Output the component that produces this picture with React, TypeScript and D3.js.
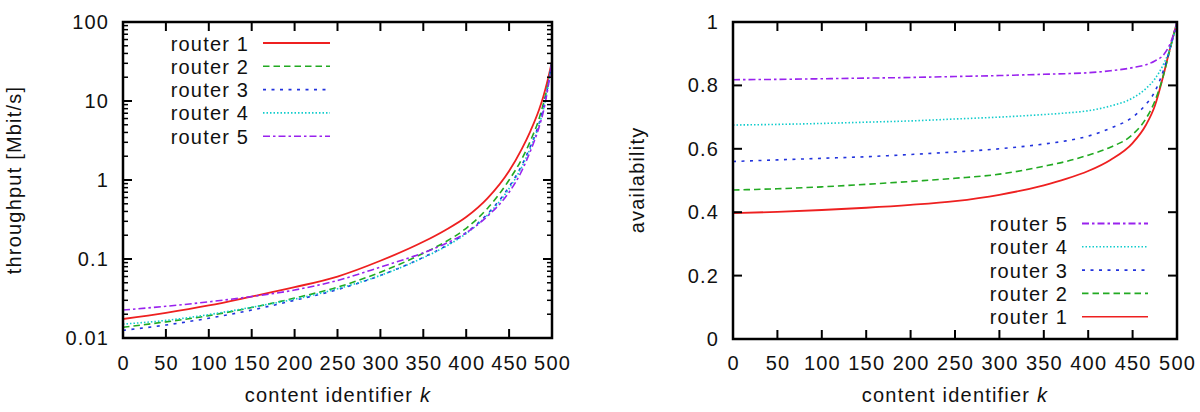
import React from 'react';
import * as d3 from 'd3';

const contentIds = [0, 50, 100, 150, 200, 250, 300, 350, 375, 400, 425, 450, 465, 475, 485, 490, 495, 500];

// throughput [Mbit/s] per router (log axis)
const thrRouter1 = [0.0174, 0.0208, 0.0258, 0.0335, 0.044, 0.060, 0.095, 0.165, 0.23, 0.34, 0.59, 1.3, 2.5, 4.2, 7.8, 11.5, 18.5, 32];
const thrRouter2 = [0.0137, 0.0160, 0.0192, 0.0243, 0.032, 0.044, 0.068, 0.118, 0.163, 0.245, 0.44, 1.0, 1.86, 3.16, 6.0, 9.3, 15.8, 32];
const thrRouter3 = [0.0125, 0.0146, 0.0178, 0.0226, 0.030, 0.041, 0.062, 0.105, 0.144, 0.215, 0.374, 0.82, 1.55, 2.7, 5.25, 8.3, 15.1, 32];
const thrRouter4 = [0.0150, 0.0167, 0.0198, 0.0245, 0.031, 0.042, 0.062, 0.104, 0.142, 0.21, 0.361, 0.78, 1.48, 2.57, 5.0, 7.8, 14.5, 32];
const thrRouter5 = [0.0226, 0.0252, 0.0287, 0.0335, 0.0405, 0.0535, 0.079, 0.12, 0.155, 0.215, 0.35, 0.70, 1.32, 2.35, 4.7, 7.4, 14.1, 32];

// availability per router
const avRouter1 = [0.397, 0.401, 0.407, 0.414, 0.423, 0.435, 0.455, 0.485, 0.505, 0.53, 0.565, 0.618, 0.675, 0.735, 0.835, 0.893, 0.948, 1.0];
const avRouter2 = [0.47, 0.474, 0.48, 0.488, 0.497, 0.507, 0.52, 0.545, 0.56, 0.58, 0.605, 0.645, 0.695, 0.75, 0.835, 0.89, 0.945, 1.0];
const avRouter3 = [0.56, 0.565, 0.57, 0.575, 0.582, 0.59, 0.60, 0.615, 0.625, 0.64, 0.665, 0.70, 0.74, 0.78, 0.85, 0.895, 0.945, 1.0];
const avRouter4 = [0.675, 0.677, 0.68, 0.684, 0.688, 0.694, 0.70, 0.708, 0.713, 0.72, 0.735, 0.76, 0.79, 0.82, 0.868, 0.9, 0.945, 1.0];
const avRouter5 = [0.818, 0.819, 0.821, 0.823, 0.825, 0.828, 0.831, 0.835, 0.837, 0.84, 0.846, 0.856, 0.865, 0.877, 0.897, 0.918, 0.952, 1.0];

const routerNames = ['router 1', 'router 2', 'router 3', 'router 4', 'router 5'];
const routerColors = ['#ee2020', '#22aa22', '#2233dd', '#11cccc', '#9922ee'];
const routerDashes = ['none', '6.5,4', '3,5.5', '1.5,2', '7,3,2.5,3'];

const xTickValues = [0, 50, 100, 150, 200, 250, 300, 350, 400, 450, 500];
const logTickLabels = ['0.01', '0.1', '1', '10', '100'];
const availTickValues = [0, 0.2, 0.4, 0.6, 0.8, 1];

const FONT = {fontFamily: 'Liberation Sans, Arial, Helvetica, sans-serif', fontSize: 20, letterSpacing: 1.2, fill: '#111'};

function Frame({x, y, ticksY, minorY, id}) {
    const [x0, x1] = x.range();
    const [y0, y1] = y.range();
    return (
        <g stroke="#000" fill="none">
            <rect x={x0} y={y1} width={x1 - x0} height={y0 - y1} strokeWidth={2.5} />
            {xTickValues.map((t) => (
                <g key={`xt${id}${t}`} strokeWidth={2}>
                    <line x1={x(t)} x2={x(t)} y1={y0} y2={y0 - 9} />
                    <line x1={x(t)} x2={x(t)} y1={y1} y2={y1 + 9} />
                </g>
            ))}
            {ticksY.map((t) => (
                <g key={`yt${id}${t}`} strokeWidth={2}>
                    <line x1={x0} x2={x0 + 9} y1={y(t)} y2={y(t)} />
                    <line x1={x1} x2={x1 - 9} y1={y(t)} y2={y(t)} />
                </g>
            ))}
            {minorY.map((t, i) => (
                <g key={`ym${id}${i}`} strokeWidth={1.5}>
                    <line x1={x0} x2={x0 + 5} y1={y(t)} y2={y(t)} />
                    <line x1={x1} x2={x1 - 5} y1={y(t)} y2={y(t)} />
                </g>
            ))}
        </g>
    );
}

function Curves({x, y, series, clipId}) {
    const line = d3.line()
        .x((d) => x(d[0]))
        .y((d) => y(d[1]))
        .curve(d3.curveMonotoneX);
    const [x0, x1] = x.range();
    const [y0, y1] = y.range();
    return (
        <g>
            <clipPath id={clipId}>
                <rect x={x0} y={y1} width={x1 - x0} height={y0 - y1} />
            </clipPath>
            <g clipPath={`url(#${clipId})`} fill="none">
                {series.map((vals, i) => (
                    <path key={i}
                        d={line(contentIds.map((k, j) => [k, vals[j]]))}
                        stroke={routerColors[i]}
                        strokeWidth={i === 0 ? 1.8 : 1.6}
                        strokeDasharray={routerDashes[i]} />
                ))}
            </g>
        </g>
    );
}

function Legend({order, textX, lineX1, lineX2, baseY}) {
    return (
        <g>
            {order.map((r, i) => (
                <g key={r}>
                    <text x={textX + 1.2} y={baseY + i * 23.3} textAnchor="end" {...FONT}>
                        {routerNames[r]}
                    </text>
                    <line x1={lineX1} x2={lineX2} y1={baseY + i * 23.3 - 7.5} y2={baseY + i * 23.3 - 7.5}
                        stroke={routerColors[r]} strokeWidth={i === 0 ? 1.8 : 1.6}
                        strokeDasharray={routerDashes[r]} />
                </g>
            ))}
        </g>
    );
}

export default function App() {
    // left: throughput, log scale
    const xL = d3.scaleLinear().domain([0, 500]).range([123, 552]);
    const yL = d3.scaleLog().domain([0.01, 100]).range([338, 22]);
    const majorL = logTickLabels.map(Number);
    const minorL = yL.ticks().filter((t) => !majorL.some((m) => Math.abs(m - t) / m < 1e-6));

    // right: availability
    const xR = d3.scaleLinear().domain([0, 500]).range([733, 1177]);
    const yR = d3.scaleLinear().domain([0, 1]).range([339, 22]);

    const thr = [thrRouter1, thrRouter2, thrRouter3, thrRouter4, thrRouter5];
    const av = [avRouter1, avRouter2, avRouter3, avRouter4, avRouter5];

    return (
        <svg width={1200} height={412} style={{position: 'absolute', left: 0, top: 0, background: '#fff'}}>
            {/* left panel */}
            <Curves x={xL} y={yL} series={thr} clipId="clipL" />
            <Frame x={xL} y={yL} ticksY={majorL} minorY={minorL} id="L" />
            {majorL.map((t, i) => (
                <text key={`yl${t}`} x={109.2} y={yL(t) + 7} textAnchor="end" {...FONT}>{logTickLabels[i]}</text>
            ))}
            {xTickValues.map((t) => (
                <text key={`xl${t}`} x={xL(t) + 0.6} y={369.5} textAnchor="middle" {...FONT}>{t}</text>
            ))}
            <text x={338} y={402} textAnchor="middle" {...FONT}>
                content identifier <tspan fontStyle="italic">k</tspan>
            </text>
            <text transform="translate(21,180) rotate(-90)" textAnchor="middle" {...FONT}>throughput [Mbit/s]</text>
            <Legend order={[0, 1, 2, 3, 4]} textX={248} lineX1={263} lineX2={330} baseY={50.5} />

            {/* right panel */}
            <Curves x={xR} y={yR} series={av} clipId="clipR" />
            <Frame x={xR} y={yR} ticksY={availTickValues} minorY={[]} id="R" />
            {availTickValues.map((t) => (
                <text key={`yr${t}`} x={719.2} y={yR(t) + 7} textAnchor="end" {...FONT}>{t}</text>
            ))}
            {xTickValues.map((t) => (
                <text key={`xr${t}`} x={xR(t) + 0.6} y={369.5} textAnchor="middle" {...FONT}>{t}</text>
            ))}
            <text x={955} y={402} textAnchor="middle" {...FONT}>
                content identifier <tspan fontStyle="italic">k</tspan>
            </text>
            <text transform="translate(644,180) rotate(-90)" textAnchor="middle" {...FONT}>availability</text>
            <Legend order={[4, 3, 2, 1, 0]} textX={1067} lineX1={1082} lineX2={1148} baseY={231} />
        </svg>
    );
}
